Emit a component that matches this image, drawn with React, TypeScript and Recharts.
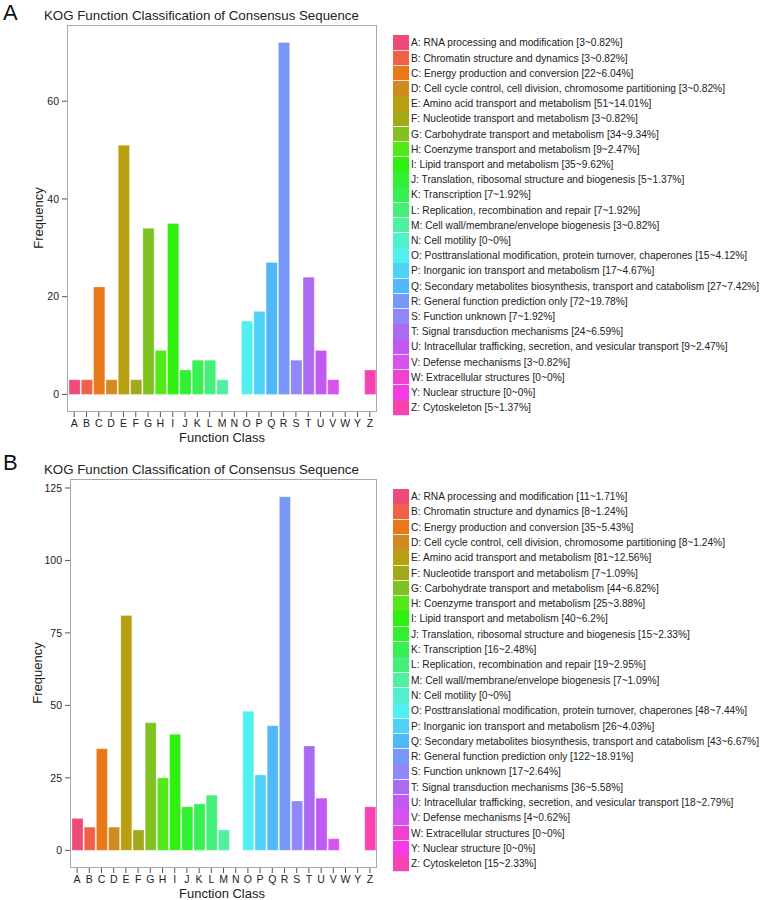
import React from 'react';
import { BarChart, Bar, XAxis, YAxis, Cell } from 'recharts';

const classes = ['A','B','C','D','E','F','G','H','I','J','K','L','M','N','O','P','Q','R','S','T','U','V','W','Y','Z'];
const descriptions = [
  'RNA processing and modification',
  'Chromatin structure and dynamics',
  'Energy production and conversion',
  'Cell cycle control, cell division, chromosome partitioning',
  'Amino acid transport and metabolism',
  'Nucleotide transport and metabolism',
  'Carbohydrate transport and metabolism',
  'Coenzyme transport and metabolism',
  'Lipid transport and metabolism',
  'Translation, ribosomal structure and biogenesis',
  'Transcription',
  'Replication, recombination and repair',
  'Cell wall/membrane/envelope biogenesis',
  'Cell motility',
  'Posttranslational modification, protein turnover, chaperones',
  'Inorganic ion transport and metabolism',
  'Secondary metabolites biosynthesis, transport and catabolism',
  'General function prediction only',
  'Function unknown',
  'Signal transduction mechanisms',
  'Intracellular trafficking, secretion, and vesicular transport',
  'Defense mechanisms',
  'Extracellular structures',
  'Nuclear structure',
  'Cytoskeleton',
];
const colors = [
  '#F04A78','#F06248','#E87818','#D08A22','#B8A010','#A2A81A','#80C222','#52E81A','#30F010',
  '#30F032','#38F052','#42F07A','#50F0A2','#50F0CA','#50F0F0','#50D2F8','#50B8F8','#7898F8',
  '#9088F8','#AA6AF2','#C05AF2','#D852F0','#F042D2','#F83AE6','#F842B2',
];

const valuesA = [3,3,22,3,51,3,34,9,35,5,7,7,3,0,15,17,27,72,7,24,9,3,0,0,5];
const pctA = ['0.82','0.82','6.04','0.82','14.01','0.82','9.34','2.47','9.62','1.37','1.92','1.92','0.82','0','4.12','4.67','7.42','19.78','1.92','6.59','2.47','0.82','0','0','1.37'];
const valuesB = [11,8,35,8,81,7,44,25,40,15,16,19,7,0,48,26,43,122,17,36,18,4,0,0,15];
const pctB = ['1.71','1.24','5.43','1.24','12.56','1.09','6.82','3.88','6.2','2.33','2.48','2.95','1.09','0','7.44','4.03','6.67','18.91','2.64','5.58','2.79','0.62','0','0','2.33'];
const ticksA = [0, 20, 40, 60];
const ticksB = [0, 25, 50, 75, 100, 125];

const titleText = 'KOG Function Classification of Consensus Sequence';
const FONT = '"Liberation Sans", Arial, Helvetica, sans-serif';
const BORDER = '#A8A8A8';
const TICK = '#555555';
const TEXT = '#222222';

type PanelProps = {
  top: number;
  letter: string;
  values: number[];
  pcts: string[];
  ticks: number[];
  domain: [number, number];
  yAxisWidth: number;
  marginTop: number;
  xAxisHeight: number;
  barSize: number;
  legendTop: number;
  rowH: number;
  titleY: number;
  letterY: number;
  yLabelX: number;
  yLabelY: number;
  xLabelY: number;
};

function Panel(p: PanelProps) {
  const data = classes.map((c, i) => ({ cls: c, value: p.values[i] }));
  const plotLeft = p.yAxisWidth;
  const plotTop = p.marginTop;
  const plotW = 385 - 8 - p.yAxisWidth;
  const plotH = 450 - p.marginTop - p.xAxisHeight;
  return (
    <div style={{ position: 'absolute', left: 0, top: p.top, width: 765, height: 450 }}>
      <div style={{ position: 'absolute', left: 3, top: p.letterY, fontSize: 22, color: '#111' }}>{p.letter}</div>
      <div style={{ position: 'absolute', left: 44, top: p.titleY, fontSize: 13.3, lineHeight: '14px', color: TEXT, whiteSpace: 'nowrap' }}>{titleText}</div>
      <div style={{ position: 'absolute', left: 0, top: 0 }}>
        <BarChart
          width={385}
          height={450}
          data={data}
          margin={{ top: p.marginTop, right: 8, left: 0, bottom: 0 }}
        >
          <XAxis
            dataKey="cls"
            interval={0}
            height={p.xAxisHeight}
            padding={{ left: 1, right: 1 }}
            tickSize={5}
            tickMargin={3}
            tickLine={{ stroke: TICK }}
            axisLine={false}
            tick={{ fill: TEXT, fontSize: 10.5, fontFamily: FONT }}
          />
          <YAxis
            type="number"
            domain={p.domain}
            ticks={p.ticks}
            allowDataOverflow
            width={p.yAxisWidth}
            tickSize={5}
            tickMargin={3}
            tickLine={{ stroke: TICK }}
            axisLine={false}
            tick={{ fill: TEXT, fontSize: 10.5, fontFamily: FONT }}
          />
          <Bar dataKey="value" barSize={p.barSize} isAnimationActive={false} stroke="rgba(255,255,255,0.5)" strokeWidth={0.5}>
            {data.map((d, i) => (
              <Cell key={d.cls} fill={colors[i]} />
            ))}
          </Bar>
        </BarChart>
      </div>
      <div
        style={{
          position: 'absolute', left: plotLeft, top: plotTop, width: plotW, height: plotH,
          boxSizing: 'border-box', border: `1.3px solid ${BORDER}`, pointerEvents: 'none',
        }}
      />
      <div
        style={{
          position: 'absolute', left: p.yLabelX, top: p.yLabelY, fontSize: 13, color: TEXT,
          transform: 'translate(-50%, -50%) rotate(-90deg)', whiteSpace: 'nowrap', lineHeight: '13px',
        }}
      >
        Frequency
      </div>
      <div
        style={{
          position: 'absolute', left: 222, top: p.xLabelY, fontSize: 13, color: TEXT,
          transform: 'translate(-50%, -50%)', whiteSpace: 'nowrap', lineHeight: '13px',
        }}
      >
        Function Class
      </div>
      {classes.map((c, i) => (
        <div key={c} style={{ position: 'absolute', left: 393, top: p.legendTop + i * p.rowH, height: p.rowH, width: 372 }}>
          <div
            style={{
              position: 'absolute', left: 0, top: 0, width: 16, height: p.rowH - 0.6,
              background: colors[i], borderBottom: '0.6px solid rgba(255,255,255,0.8)',
            }}
          />
          <div
            style={{
              position: 'absolute', left: 18, top: 0, height: p.rowH, lineHeight: p.rowH + 'px',
              fontSize: 10.2, color: TEXT, whiteSpace: 'nowrap',
            }}
          >
            {`${c}: ${descriptions[i]} [${p.values[i]}~${p.pcts[i]}%]`}
          </div>
        </div>
      ))}
    </div>
  );
}

export default function App() {
  return (
    <div style={{ position: 'absolute', left: 0, top: 0, width: 765, height: 900, background: '#fff', fontFamily: FONT }}>
      <Panel
        top={0}
        letter="A"
        values={valuesA}
        pcts={pctA}
        ticks={ticksA}
        domain={[-3.6, 75.6]}
        yAxisWidth={67}
        marginTop={25}
        xAxisHeight={38}
        barSize={11.2}
        legendTop={35.4}
        rowH={15.2}
        titleY={9}
        letterY={0}
        yLabelX={38}
        yLabelY={218}
        xLabelY={437}
      />
      <Panel
        top={450}
        letter="B"
        values={valuesB}
        pcts={pctB}
        ticks={ticksB}
        domain={[-6.1, 128.1]}
        yAxisWidth={70}
        marginTop={29}
        xAxisHeight={32}
        barSize={11}
        legendTop={39}
        rowH={15.3}
        titleY={13}
        letterY={0}
        yLabelX={37}
        yLabelY={223}
        xLabelY={443}
      />
    </div>
  );
}
